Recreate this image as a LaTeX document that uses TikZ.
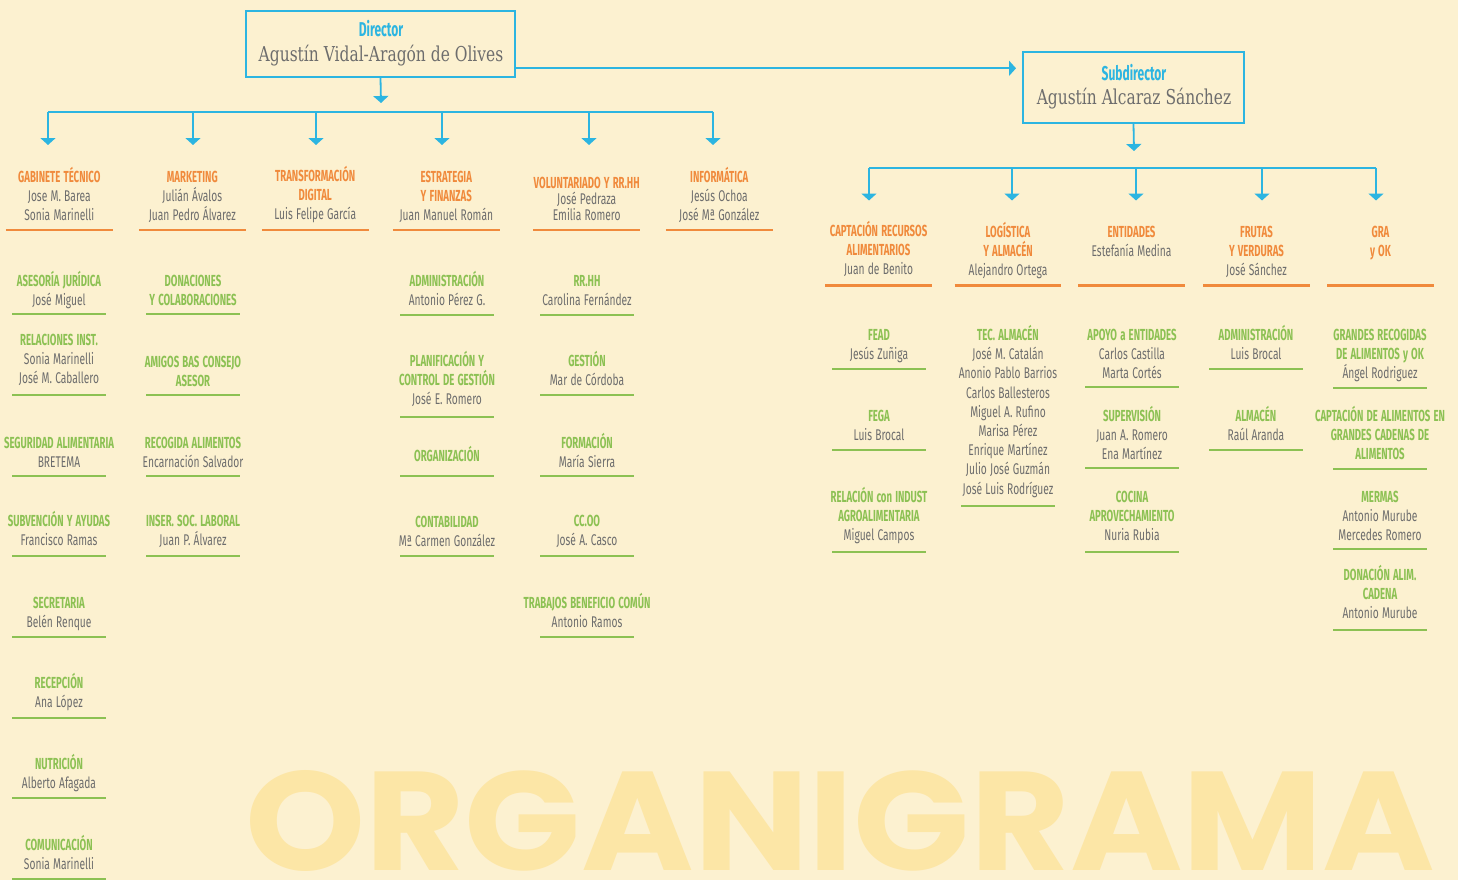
\documentclass[tikz,border=0pt]{standalone}
\usepackage{fontspec}
\usepackage{graphicx}
\usetikzlibrary{arrows.meta}
\newfontfamily\hdfont[FakeStretch=0.6,WordSpace={1.4,0,0}]{Fira Sans}
\newfontfamily\nmfont[FakeStretch=0.66,WordSpace={1.2,0,0}]{Fira Sans}
\newfontfamily\slabfont[FakeStretch=0.755]{DejaVu Serif}
\newfontfamily\wmfont{Poppins}
\definecolor{bg}{HTML}{FCF1D0}
\definecolor{wm}{HTML}{FCE6A6}
\definecolor{blu}{HTML}{2CB5E1}
\definecolor{org}{HTML}{F08A3C}
\definecolor{grn}{HTML}{8CC153}
\definecolor{gry}{HTML}{6D6D6D}
\colorlet{hcol}{grn}
\newcommand\Hd[1]{{\hdfont\bfseries\fontsize{16}{19.2}\selectfont\color{hcol}#1}}
\tikzset{
  blk/.style={anchor=base, inner sep=0pt, text width=180pt, align=flush center,
    font=\nmfont\fontsize{15.5}{19.2}\selectfont, text=gry},
  hgrn/.style={execute at begin node={\colorlet{hcol}{grn}}},
  horg/.style={execute at begin node={\colorlet{hcol}{org}}},
  gbar/.style={grn, line width=2.8pt},
  obar/.style={org, line width=2.8pt},
  conn/.style={blu, line width=1.8pt},
  arr/.style={conn, -{Triangle[width=15pt,length=7pt]}},
  box/.style={draw=blu, line width=1.8pt, inner sep=0pt},
  ttl/.style={anchor=base, inner sep=0pt, text=blu, font=\hdfont\bfseries\fontsize{20}{22}\selectfont},
  bname/.style={anchor=base, inner sep=0pt, text=gry, font=\slabfont\fontsize{20.5}{24}\selectfont},
}
\newcommand\gB[5]{\node[blk,hgrn] (#1) at (#2,#3+5.5) {#5};\draw[gbar] (#2-47,#4) -- (#2+47,#4);}
\newcommand\oB[5]{\node[blk,horg] (#1) at (#2,#3+5.5) {#5};\draw[obar] (#2-53.4,#4) -- (#2+53.4,#4);}
\begin{document}
\begin{tikzpicture}[x=1pt,y=-1pt]
\fill[bg] (0,0) rectangle (1458,880);
\useasboundingbox (0,0) rectangle (1458,880);
\node[anchor=south west, inner sep=0pt, text=wm] (wmark) at (245,872) {\resizebox{1190pt}{100pt}{\wmfont\bfseries ORGANIGRAMA}};

% Director / Subdirector
\node[box, minimum width=269pt, minimum height=66pt] (dir) at (380.5,44) {};
\node[ttl] (dirt) at (381,36.7) {Director};
\node[bname] (dirn) at (381,61.7) {Agustín Vidal-Aragón de Olives};
\node[box, minimum width=221pt, minimum height=71pt] (sub) at (1133.5,87.5) {};
\node[ttl] (subt) at (1134,80.7) {Subdirector};
\node[bname] (subn) at (1134,105) {Agustín Alcaraz Sánchez};

\coordinate (dsA) at (515,68.3);
\coordinate (dsB) at (1016,68.3);
\draw[arr] (dsA) -- (dsB);

% left bus
\coordinate (dtip) at (381,103);
\draw[arr] (dir.south) -- (dtip);
\coordinate (lb1) at (48,111.7);  \coordinate (lt1) at (48,145);
\coordinate (lb2) at (193,111.7); \coordinate (lt2) at (193,145);
\coordinate (lb3) at (316,111.7); \coordinate (lt3) at (316,145);
\coordinate (lb4) at (442,111.7); \coordinate (lt4) at (442,145);
\coordinate (lb5) at (589,111.7); \coordinate (lt5) at (589,145);
\coordinate (lb6) at (713,111.7); \coordinate (lt6) at (713,145);
\draw[conn] (lb1) -- (lb6);
\foreach \i in {1,...,6}{\draw[arr] (lb\i) -- (lt\i);}

% right bus
\coordinate (stip) at (1134,151);
\draw[arr] (sub.south) -- (stip);
\coordinate (rb1) at (869,167.7);  \coordinate (rt1) at (869,200.5);
\coordinate (rb2) at (1012,167.7); \coordinate (rt2) at (1012,200.5);
\coordinate (rb3) at (1136,167.7); \coordinate (rt3) at (1136,200.5);
\coordinate (rb4) at (1262,167.7); \coordinate (rt4) at (1262,200.5);
\coordinate (rb5) at (1376,167.7); \coordinate (rt5) at (1376,200.5);
\draw[conn] (rb1) -- (rb5);
\foreach \i in {1,...,5}{\draw[arr] (rb\i) -- (rt\i);}

% orange level, left
\oB{gab}{59.3}{177}{230}{\Hd{GABINETE TÉCNICO}\\Jose M. Barea\\Sonia Marinelli}
\oB{mkt}{192.3}{177}{230}{\Hd{MARKETING}\\Julián Ávalos\\Juan Pedro Álvarez}
\oB{trf}{315.2}{176}{230}{\Hd{TRANSFORMACIÓN}\\\Hd{DIGITAL}\\Luis Felipe García}
\oB{est}{446.3}{177}{230}{\Hd{ESTRATEGIA}\\\Hd{Y FINANZAS}\\Juan Manuel Román}
\oB{vol}{586.7}{182.5}{230}{\Hd{VOLUNTARIADO Y RR.HH}\\[-2.5pt]José Pedraza\\[-3pt]Emilia Romero}
\oB{inf}{719.3}{177}{230}{\Hd{INFORMÁTICA}\\Jesús Ochoa\\José Mª González}

% orange level, right
\oB{cap}{878.5}{231}{285.7}{\Hd{CAPTACIÓN RECURSOS}\\\Hd{ALIMENTARIOS}\\Juan de Benito}
\oB{log}{1008}{232}{285.7}{\Hd{LOGÍSTICA}\\\Hd{Y ALMACÉN}\\Alejandro Ortega}
\oB{ent}{1131.5}{232}{285.7}{\Hd{ENTIDADES}\\Estefanía Medina}
\oB{fru}{1256.5}{232}{285.7}{\Hd{FRUTAS}\\\Hd{Y VERDURAS}\\José Sánchez}
\oB{gra}{1380.5}{232}{285.7}{\Hd{GRA}\\\Hd{y OK}}

% green, column 1
\gB{ase}{59}{281}{314}{\Hd{ASESORÍA JURÍDICA}\\José Miguel}
\gB{rel}{59}{340}{395}{\Hd{RELACIONES INST.}\\Sonia Marinelli\\José M. Caballero}
\gB{seg}{59}{443}{476}{\Hd{SEGURIDAD ALIMENTARIA}\\BRETEMA}
\gB{sbv}{59}{521}{556}{\Hd{SUBVENCIÓN Y AYUDAS}\\Francisco Ramas}
\gB{sec}{59}{603}{637}{\Hd{SECRETARIA}\\Belén Renque}
\gB{rcp}{59}{683}{718}{\Hd{RECEPCIÓN}\\Ana López}
\gB{nut}{59}{764}{798}{\Hd{NUTRICIÓN}\\Alberto Afagada}
\gB{com}{59}{845}{879}{\Hd{COMUNICACIÓN}\\Sonia Marinelli}

% green, column 2
\gB{don}{193}{281}{314}{\Hd{DONACIONES}\\\Hd{Y COLABORACIONES}}
\gB{ami}{193}{362}{395}{\Hd{AMIGOS BAS CONSEJO}\\\Hd{ASESOR}}
\gB{rga}{193}{443}{476}{\Hd{RECOGIDA ALIMENTOS}\\Encarnación Salvador}
\gB{ins}{193}{521}{556}{\Hd{INSER. SOC. LABORAL}\\Juan P. Álvarez}

% green, column 4
\gB{adm}{447}{281}{315}{\Hd{ADMINISTRACIÓN}\\Antonio Pérez G.}
\gB{pla}{447}{361}{417}{\Hd{PLANIFICACIÓN Y}\\\Hd{CONTROL DE GESTIÓN}\\José E. Romero}
\gB{orz}{447}{456}{476}{\Hd{ORGANIZACIÓN}}
\gB{cnt}{447}{522}{556}{\Hd{CONTABILIDAD}\\Mª Carmen González}

% green, column 5
\gB{rrh}{587}{281}{315}{\Hd{RR.HH}\\Carolina Fernández}
\gB{ges}{587}{361}{395}{\Hd{GESTIÓN}\\Mar de Córdoba}
\gB{frm}{587}{443}{476}{\Hd{FORMACIÓN}\\María Sierra}
\gB{cco}{587}{521}{556}{\Hd{CC.OO}\\José A. Casco}
\gB{tbc}{587}{603}{637}{\Hd{TRABAJOS BENEFICIO COMÚN}\\Antonio Ramos}

% green, right A
\gB{fead}{879}{335}{369}{\Hd{FEAD}\\Jesús Zuñiga}
\gB{fega}{879}{416}{450}{\Hd{FEGA}\\Luis Brocal}
\gB{rin}{879}{497}{552}{\Hd{RELACIÓN con INDUST}\\\Hd{AGROALIMENTARIA}\\Miguel Campos}

% green, right B
\gB{tec}{1008}{335}{506}{\Hd{TEC. ALMACÉN}\\José M. Catalán\\Anonio Pablo Barrios\\Carlos Ballesteros\\Miguel A. Rufino\\Marisa Pérez\\Enrique Martínez\\Julio José Guzmán\\José Luis Rodríguez}

% green, right C
\gB{apo}{1132}{335}{387}{\Hd{APOYO a ENTIDADES}\\Carlos Castilla\\Marta Cortés}
\gB{sup}{1132}{416}{468}{\Hd{SUPERVISIÓN}\\Juan A. Romero\\Ena Martínez}
\gB{coc}{1132}{497}{552}{\Hd{COCINA}\\\Hd{APROVECHAMIENTO}\\Nuria Rubia}

% green, right D
\gB{adr}{1256}{335}{369}{\Hd{ADMINISTRACIÓN}\\Luis Brocal}
\gB{alm}{1256}{416}{450}{\Hd{ALMACÉN}\\Raúl Aranda}

% green, right E
\gB{grr}{1380}{335}{388}{\Hd{GRANDES RECOGIDAS}\\\Hd{DE ALIMENTOS y OK}\\Ángel Rodriguez}
\gB{cpa}{1380}{416}{469}{\Hd{CAPTACIÓN DE ALIMENTOS EN}\\\Hd{GRANDES CADENAS DE}\\\Hd{ALIMENTOS}}
\gB{mer}{1380}{497}{549}{\Hd{MERMAS}\\Antonio Murube\\Mercedes Romero}
\gB{dal}{1380}{575}{630}{\Hd{DONACIÓN ALIM.}\\\Hd{CADENA}\\Antonio Murube}
\end{tikzpicture}
\end{document}
